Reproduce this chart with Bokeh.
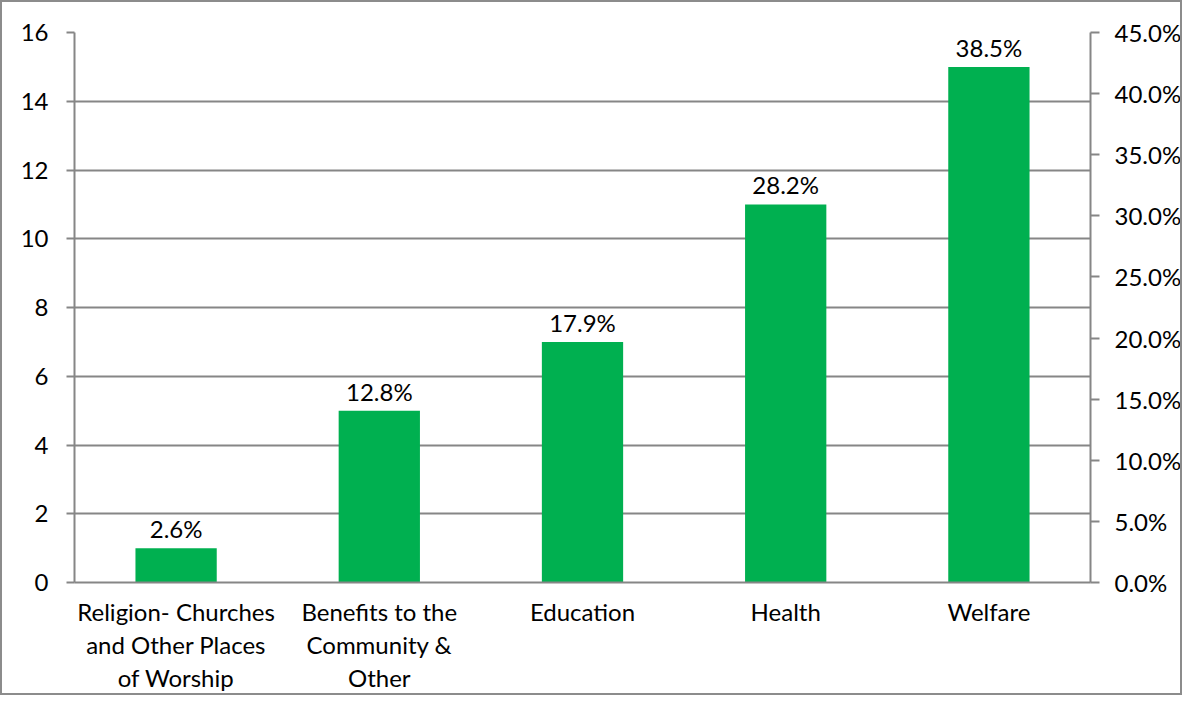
from bokeh.plotting import figure
from bokeh.models import ColumnDataSource, Range1d, LinearAxis, FixedTicker, NumeralTickFormatter, FactorRange
from bokeh.core.properties import value
from bokeh.embed import file_html
from bokeh.resources import INLINE

categories = ["Religion- Churches\nand Other Places\nof Worship",
              "Benefits to the\nCommunity &\nOther",
              "Education", "Health", "Welfare"]
counts = [1, 5, 7, 11, 15]
percent_labels = ["2.6%", "12.8%", "17.9%", "28.2%", "38.5%"]
left_ticks = [0, 2, 4, 6, 8, 10, 12, 14, 16]
right_ticks = [0.0, 0.05, 0.10, 0.15, 0.20, 0.25, 0.30, 0.35, 0.40, 0.45]

FONT = "Lato"
FS = "24px"
GRID = "#868686"
BAR = "#00B050"

src = ColumnDataSource(dict(cat=categories, val=counts, lab=percent_labels))

p = figure(x_range=FactorRange(*categories), y_range=Range1d(0, 16),
           width=1182, height=695, output_backend="svg", toolbar_location=None,
           min_border_left=72, min_border_right=92, min_border_top=30, min_border_bottom=115,
           styles={"border": "2px solid #8c8c8c", "box-sizing": "border-box"})
p.x_range.range_padding = 0
p.outline_line_color = None
p.background_fill_color = "white"
p.border_fill_color = "white"

p.vbar(x="cat", top="val", width=0.40, source=src, color=BAR, line_color=None)
p.text(x="cat", y="val", text="lab", source=src, text_align="center",
       text_baseline="bottom", y_offset=-5, text_font=value(FONT),
       text_font_size=FS, text_color="black")

# left axis
ya = p.yaxis[0]
ya.ticker = FixedTicker(ticks=left_ticks)
ya.axis_line_color = GRID
ya.axis_line_width = 2
ya.major_tick_line_color = GRID
ya.major_tick_line_width = 2
ya.major_tick_out = 8
ya.major_tick_in = 0
ya.minor_tick_line_color = None
ya.major_label_text_font = FONT
ya.major_label_text_font_size = FS
ya.major_label_text_color = "black"
ya.major_label_standoff = 18

# right axis
p.extra_y_ranges = {"pct": Range1d(0, 0.45)}
ra = LinearAxis(y_range_name="pct", ticker=FixedTicker(ticks=right_ticks),
                formatter=NumeralTickFormatter(format="0.0%"))
ra.axis_line_color = GRID
ra.axis_line_width = 2
ra.major_tick_line_color = GRID
ra.major_tick_line_width = 2
ra.major_tick_out = 9
ra.major_tick_in = 0
ra.minor_tick_line_color = None
ra.major_label_text_font = FONT
ra.major_label_text_font_size = FS
ra.major_label_text_color = "black"
ra.major_label_standoff = 15
p.add_layout(ra, "right")

# x axis
xa = p.xaxis[0]
xa.axis_line_color = GRID
xa.axis_line_width = 2
xa.major_tick_line_color = None
xa.major_tick_out = 0
xa.major_label_text_font = FONT
xa.major_label_text_font_size = FS
xa.major_label_text_color = "black"
xa.major_label_text_line_height = 1.14
xa.major_label_standoff = 14

p.xgrid.grid_line_color = None
p.ygrid.grid_line_color = GRID
p.ygrid.grid_line_width = 2
p.ygrid.ticker = FixedTicker(ticks=left_ticks)

open("out.html", "w").write(file_html(p, INLINE))
